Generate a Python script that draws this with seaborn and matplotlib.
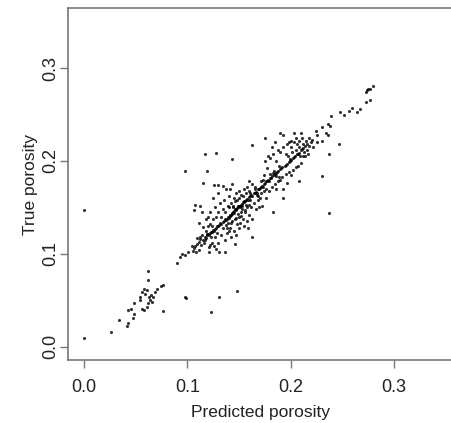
import numpy as np
import matplotlib
matplotlib.use('Agg')
import matplotlib.pyplot as plt
import seaborn as sns
import pandas as pd

# values (predicted, true)
pred_outliers = [0.000, 0.000, 0.026, 0.034, 0.098, 0.099, 0.123, 0.131, 0.148, 0.098,
                 0.117, 0.128, 0.143, 0.119, 0.163, 0.230, 0.237, 0.247, 0.237, 0.208,
                 0.193, 0.183, 0.163, 0.136, 0.146, 0.115]
true_outliers = [0.147, 0.009, 0.016, 0.029, 0.053, 0.052, 0.037, 0.054, 0.060, 0.189,
                 0.208, 0.209, 0.202, 0.189, 0.217, 0.184, 0.144, 0.218, 0.207, 0.178,
                 0.160, 0.145, 0.118, 0.102, 0.111, 0.176]

pred_low = [0.042, 0.043, 0.047, 0.048, 0.043, 0.045, 0.048, 0.054, 0.056, 0.058,
            0.061, 0.062, 0.064, 0.063, 0.065, 0.069, 0.071, 0.074, 0.076, 0.056,
            0.058, 0.059, 0.061, 0.062, 0.062, 0.054, 0.076, 0.066, 0.067]
true_low = [0.022, 0.025, 0.031, 0.035, 0.040, 0.041, 0.047, 0.050, 0.041, 0.040,
            0.043, 0.047, 0.050, 0.053, 0.056, 0.059, 0.062, 0.065, 0.066, 0.059,
            0.062, 0.057, 0.061, 0.072, 0.081, 0.054, 0.038, 0.048, 0.054]

pred_upper = [0.274, 0.277, 0.280, 0.275, 0.273, 0.273, 0.277, 0.267, 0.264, 0.259,
              0.256, 0.252, 0.248, 0.239, 0.236, 0.238, 0.234, 0.236, 0.230, 0.224,
              0.225, 0.230, 0.221]
true_upper = [0.276, 0.278, 0.281, 0.277, 0.274, 0.264, 0.266, 0.256, 0.253, 0.257,
              0.254, 0.250, 0.253, 0.248, 0.240, 0.238, 0.230, 0.228, 0.237, 0.232,
              0.228, 0.221, 0.223]

pred_a = [0.090, 0.093, 0.095, 0.098, 0.101, 0.105, 0.104, 0.106, 0.107, 0.109,
          0.111, 0.112, 0.112, 0.114, 0.109, 0.106, 0.107, 0.112, 0.114, 0.120,
          0.111, 0.115, 0.121, 0.131, 0.122, 0.117]
true_a = [0.090, 0.097, 0.100, 0.099, 0.102, 0.103, 0.108, 0.106, 0.108, 0.111,
          0.113, 0.116, 0.118, 0.120, 0.117, 0.147, 0.153, 0.151, 0.145, 0.140,
          0.133, 0.129, 0.102, 0.102, 0.110, 0.115]

pred_b = [0.115, 0.118, 0.120, 0.122, 0.124, 0.126, 0.128, 0.130, 0.131, 0.133,
          0.135, 0.136, 0.138, 0.140, 0.141, 0.118, 0.122, 0.125, 0.128, 0.130,
          0.127, 0.132, 0.125, 0.130, 0.126, 0.130, 0.134, 0.137, 0.135, 0.139,
          0.140, 0.122, 0.118, 0.120, 0.124, 0.127, 0.130, 0.133, 0.136, 0.138,
          0.140, 0.142, 0.128, 0.126, 0.134, 0.137, 0.139, 0.141, 0.143, 0.123,
          0.119, 0.113, 0.116, 0.111, 0.108, 0.121]
true_b = [0.115, 0.117, 0.121, 0.122, 0.124, 0.125, 0.128, 0.130, 0.131, 0.132,
          0.135, 0.137, 0.138, 0.139, 0.141, 0.125, 0.132, 0.138, 0.140, 0.145,
          0.150, 0.155, 0.160, 0.165, 0.174, 0.174, 0.173, 0.170, 0.158, 0.152,
          0.162, 0.145, 0.138, 0.130, 0.112, 0.118, 0.112, 0.120, 0.115, 0.122,
          0.125, 0.118, 0.105, 0.108, 0.128, 0.131, 0.133, 0.128, 0.135, 0.118,
          0.121, 0.110, 0.112, 0.104, 0.102, 0.107]

pred_c = [0.142, 0.143, 0.144, 0.145, 0.146, 0.147, 0.148, 0.149, 0.150, 0.151,
          0.152, 0.153, 0.154, 0.155, 0.156, 0.158, 0.160, 0.162, 0.164, 0.166,
          0.168, 0.170, 0.142, 0.145, 0.147, 0.150, 0.152, 0.155, 0.158, 0.160,
          0.163, 0.148, 0.144, 0.146, 0.148, 0.150, 0.152, 0.154, 0.156, 0.158,
          0.160, 0.162, 0.164, 0.166, 0.168, 0.170, 0.172, 0.145, 0.150, 0.155,
          0.158, 0.163, 0.141, 0.143, 0.160, 0.165, 0.153, 0.157, 0.149, 0.161,
          0.167, 0.171, 0.174, 0.176, 0.169, 0.151, 0.147, 0.159]
true_c = [0.142, 0.143, 0.145, 0.146, 0.148, 0.148, 0.149, 0.150, 0.151, 0.152,
          0.153, 0.154, 0.156, 0.157, 0.157, 0.159, 0.161, 0.163, 0.165, 0.167,
          0.170, 0.171, 0.155, 0.160, 0.165, 0.168, 0.163, 0.170, 0.172, 0.168,
          0.175, 0.158, 0.150, 0.138, 0.132, 0.140, 0.145, 0.137, 0.145, 0.150,
          0.142, 0.150, 0.155, 0.148, 0.158, 0.160, 0.152, 0.125, 0.128, 0.130,
          0.135, 0.138, 0.170, 0.175, 0.178, 0.172, 0.148, 0.153, 0.143, 0.158,
          0.163, 0.165, 0.168, 0.160, 0.150, 0.133, 0.120, 0.128]

pred_d = [0.172, 0.174, 0.176, 0.178, 0.180, 0.182, 0.184, 0.186, 0.188, 0.190,
          0.192, 0.194, 0.196, 0.198, 0.200, 0.202, 0.204, 0.206, 0.208, 0.210,
          0.212, 0.214, 0.216, 0.180, 0.183, 0.186, 0.184, 0.174, 0.177, 0.175,
          0.178, 0.180, 0.183, 0.186, 0.188, 0.190, 0.193, 0.196, 0.198, 0.200,
          0.203, 0.190, 0.193, 0.182, 0.185, 0.175, 0.179, 0.182, 0.185, 0.188,
          0.190, 0.192, 0.195, 0.198, 0.200, 0.202, 0.205, 0.207, 0.210, 0.196,
          0.193, 0.186, 0.176, 0.171, 0.173, 0.189, 0.197, 0.201, 0.205, 0.208,
          0.212, 0.215, 0.218, 0.211, 0.208, 0.205, 0.203, 0.213, 0.216, 0.218,
          0.220, 0.209, 0.212, 0.199, 0.195, 0.214, 0.217, 0.222, 0.225, 0.210,
          0.200, 0.206, 0.189]
true_d = [0.173, 0.175, 0.178, 0.180, 0.182, 0.184, 0.185, 0.187, 0.189, 0.191,
          0.193, 0.195, 0.197, 0.199, 0.201, 0.203, 0.205, 0.207, 0.209, 0.212,
          0.214, 0.216, 0.218, 0.186, 0.187, 0.184, 0.189, 0.185, 0.192, 0.200,
          0.205, 0.203, 0.207, 0.200, 0.212, 0.210, 0.215, 0.218, 0.220, 0.222,
          0.220, 0.230, 0.228, 0.215, 0.220, 0.225, 0.168, 0.172, 0.175, 0.178,
          0.180, 0.183, 0.186, 0.188, 0.185, 0.190, 0.193, 0.195, 0.198, 0.176,
          0.170, 0.170, 0.170, 0.178, 0.180, 0.195, 0.205, 0.210, 0.212, 0.215,
          0.218, 0.222, 0.225, 0.225, 0.222, 0.225, 0.230, 0.210, 0.212, 0.216,
          0.220, 0.205, 0.205, 0.202, 0.208, 0.205, 0.208, 0.215, 0.220, 0.230,
          0.215, 0.218, 0.183]

# extra points in the dense core along the diagonal
pred_e = [0.117, 0.119, 0.121, 0.123, 0.125, 0.127, 0.129, 0.132, 0.134, 0.137,
          0.139, 0.141, 0.143, 0.145, 0.147, 0.149, 0.151, 0.153, 0.155, 0.157,
          0.159, 0.161, 0.163, 0.165, 0.167, 0.169, 0.171, 0.173, 0.175, 0.177,
          0.179, 0.181, 0.185, 0.187, 0.191, 0.195, 0.199, 0.203, 0.207, 0.211,
          0.133, 0.136, 0.140, 0.144, 0.146, 0.150, 0.154, 0.157, 0.161, 0.165,
          0.138, 0.142, 0.147, 0.152, 0.156, 0.160, 0.129, 0.124, 0.134, 0.168]
true_e = [0.118, 0.120, 0.120, 0.124, 0.126, 0.127, 0.130, 0.133, 0.134, 0.136,
          0.140, 0.142, 0.144, 0.144, 0.147, 0.151, 0.150, 0.152, 0.156, 0.158,
          0.158, 0.162, 0.162, 0.166, 0.166, 0.170, 0.172, 0.172, 0.176, 0.178,
          0.178, 0.182, 0.186, 0.188, 0.192, 0.196, 0.200, 0.204, 0.208, 0.213,
          0.140, 0.145, 0.150, 0.152, 0.157, 0.160, 0.162, 0.165, 0.166, 0.170,
          0.128, 0.133, 0.139, 0.141, 0.147, 0.153, 0.122, 0.130, 0.148, 0.162]

pred = (pred_outliers + pred_low + pred_upper + pred_a + pred_b + pred_c + pred_d + pred_e)
true = (true_outliers + true_low + true_upper + true_a + true_b + true_c + true_d + true_e)
df = pd.DataFrame({'Predicted porosity': pred, 'True porosity': true})

sns.set_theme(style='ticks')
plt.rcParams['font.family'] = ['Liberation Sans', 'DejaVu Sans']

fig = plt.figure(figsize=(4.52, 4.23), dpi=100)
ax = fig.add_axes([68 / 452, 63 / 423, 385 / 452, 352 / 423])

sns.scatterplot(data=df, x='Predicted porosity', y='True porosity', ax=ax,
                color='black', s=5, linewidth=0, alpha=0.8, marker='o')

ax.set_xlim(-0.0155, 0.357)
ax.set_ylim(-0.0143, 0.3647)
ax.set_xticks([0.0, 0.1, 0.2, 0.3])
ax.set_yticks([0.0, 0.1, 0.2, 0.3])
ax.set_xticklabels(['0.0', '0.1', '0.2', '0.3'])
ax.set_yticklabels(['0.0', '0.1', '0.2', '0.3'], rotation=90, va='center')

for side in ['left', 'bottom', 'top', 'right']:
    ax.spines[side].set_visible(True)
    ax.spines[side].set_color('#777777')
    ax.spines[side].set_linewidth(1.2)

ax.tick_params(axis='both', direction='out', length=6, width=1.0,
               color='#777777', labelsize=13, labelcolor='#222222')
ax.tick_params(axis='x', pad=8)
ax.tick_params(axis='y', pad=0.5)
ax.set_xlabel('Predicted porosity', fontsize=12.5, color='#222222', labelpad=6)
ax.set_ylabel('True porosity', fontsize=12.5, color='#222222', labelpad=2.5)

fig.savefig('out.png', dpi=100)
